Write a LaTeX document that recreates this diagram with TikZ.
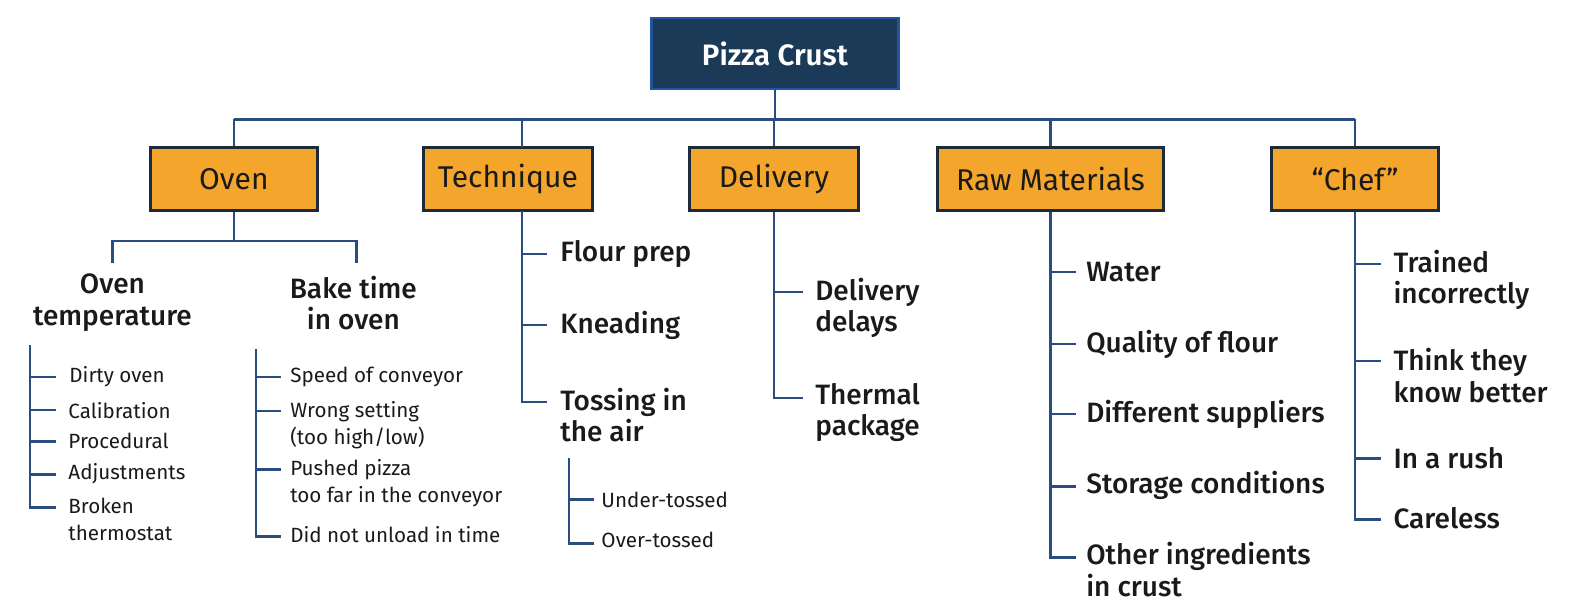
\documentclass[tikz,border=0pt]{standalone}
\usepackage{fontspec}
\setmainfont{Fira Sans}
\newfontfamily\semifont{Fira Sans Medium}
\newfontfamily\boldfont{Fira Sans SemiBold}
\definecolor{linec}{HTML}{2B4C7E}
\definecolor{navy}{HTML}{1B3A57}
\definecolor{navyborder}{HTML}{2453A0}
\definecolor{orangec}{HTML}{F4A52C}
\definecolor{catborder}{HTML}{1C2A3A}
\definecolor{txt}{HTML}{1A1A1A}
\begin{document}
\begin{tikzpicture}[x=1.0038pt,y=-1.003pt,
  lk/.style={draw=linec, line width=2.4pt},
  topbox/.style={draw=navyborder, fill=navy, line width=2.5pt, minimum width=247pt, minimum height=71pt, text=white, font=\fontsize{29.5}{33}\boldfont},
  catbox/.style={draw=catborder, fill=orangec, line width=2.5pt, minimum height=63pt, text=txt, font=\fontsize{30}{34}\selectfont},
  midtxt/.style={inner sep=0pt, text=txt, align=left, anchor=west, font=\fontsize{28}{31.5}\semifont},
  subhead/.style={inner sep=0pt, text=txt, align=center, font=\fontsize{28}{31.5}\semifont},
  smalltxt/.style={inner sep=0pt, text=txt, align=left, anchor=west, font=\fontsize{20.6}{27}\selectfont}
]
\useasboundingbox[fill=white] (0,0) rectangle (1568,614);

% top
\node[topbox] (top) at (772,53.5) {Pizza Crust};
\coordinate (bus) at (772,119);

% categories
\node[catbox, minimum width=167pt] (oven) at (233,178.5) {Oven};
\node[catbox, minimum width=169pt] (tech) at (506,178.5) {Technique};
\node[catbox, minimum width=169pt] (deliv) at (771,178.5) {Delivery};
\node[catbox, minimum width=226pt] (raw) at (1046.5,178.5) {Raw Materials};
\node[catbox, minimum width=167pt] (chef) at (1350,178.5) {``Chef''};

\coordinate (techtop) at (520,147);
\coordinate (techbot) at (520,210);

\draw[lk] (top.south) -- (bus);
\draw[lk] (bus -| oven.north) -- (bus -| chef.north);
\draw[lk] (oven.north) -- (bus -| oven.north);
\draw[lk] (techtop) -- (bus -| techtop);
\draw[lk] (deliv.north) -- (bus -| deliv.north);
\draw[lk] (raw.north) -- (bus -| raw.north);
\draw[lk] (chef.north) -- (bus -| chef.north);

% ---- Oven ----
\node[subhead] (otemp) at (112,302) {Oven\\temperature};
\node[subhead] (obake) at (352,302) {Bake time\\in oven};
\coordinate (ojoin) at (233,240);
\draw[lk] (oven.south) -- (ojoin);
\draw[lk] (112,262) |- (ojoin) -| (355,262);

% oven temperature list
\coordinate (ots) at (30,344);
\node[smalltxt] (ot1) at (69,376) {Dirty oven};
\node[smalltxt] (ot2) at (68,409) {Calibration};
\node[smalltxt] (ot3) at (68,440) {Procedural};
\node[smalltxt] (ot4) at (68,472) {Adjustments};
\node[smalltxt] (ot5) at (68,518) {Broken\\thermostat};
\draw[lk] (ots) -- (30,506) -- (56,506);
\foreach \y in {376,409,440,473}{ \draw[lk] (30,\y) -- (56,\y); }

% bake time list
\coordinate (obs) at (255,348);
\node[smalltxt] (ob1) at (289,376) {Speed of conveyor};
\node[smalltxt] (ob2) at (289,423.5) {Wrong setting\\(too high/low)};
\node[smalltxt] (ob3) at (289,481.5) {Pushed pizza\\too far in the conveyor};
\node[smalltxt] (ob4) at (289,533) {Did not unload in time};
\draw[lk] (obs) -- (255,535) -- (280,535);
\foreach \y in {376,410,468}{ \draw[lk] (255,\y) -- (280,\y); }

% ---- Technique ----
\node[midtxt] (t1) at (558,253) {Flour prep};
\node[midtxt] (t2) at (558,324) {Kneading};
\node[midtxt] (t3) at (558,414) {Tossing in\\the air};
\draw[lk] (techbot) -- (520,401) -- (545,401);
\foreach \y in {253,324}{ \draw[lk] (520,\y) -- (545,\y); }
\coordinate (tts) at (567,457);
\node[smalltxt] (tt1) at (599,498) {Under-tossed};
\node[smalltxt] (tt2) at (599,538) {Over-tossed};
\draw[lk] (tts) -- (567,542) -- (592,542);
\draw[lk] (567,498) -- (592,498);

% ---- Delivery ----
\node[midtxt] (d1) at (812,307) {Delivery\\delays};
\node[midtxt] (d2) at (812,411) {Thermal\\package};
\draw[lk] (deliv.south) -- (771,397) -- (800,397);
\draw[lk] (771,291) -- (800,291);

% ---- Raw Materials ----
\node[midtxt] (r1) at (1082,271) {Water};
\node[midtxt] (r2) at (1082,343) {Quality of flour};
\node[midtxt] (r3) at (1082,413) {Different suppliers};
\node[midtxt] (r4) at (1082,484) {Storage conditions};
\node[midtxt] (r5) at (1082,568) {Other ingredients\\in crust};
\draw[lk] (raw.south) -- (1046.5,556) -- (1072,556);
\foreach \y in {271,343,413,485}{ \draw[lk] (1046.5,\y) -- (1072,\y); }

% ---- Chef ----
\node[midtxt] (c1) at (1388,279) {Trained\\incorrectly};
\node[midtxt] (c2) at (1388,374.5) {Think they\\know better};
\node[midtxt] (c3) at (1388,457) {In a rush};
\node[midtxt] (c4) at (1388,517) {Careless};
\draw[lk] (chef.south) -- (1350,518) -- (1376,518);
\foreach \y in {263,360,457}{ \draw[lk] (1350,\y) -- (1376,\y); }
\end{tikzpicture}
\end{document}
